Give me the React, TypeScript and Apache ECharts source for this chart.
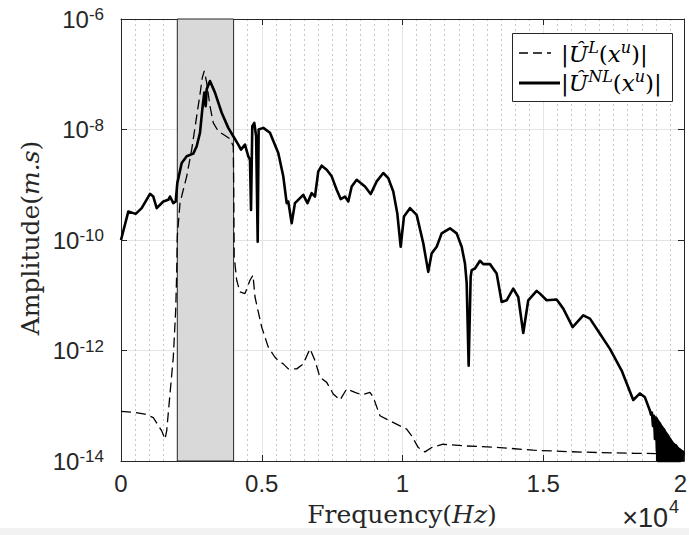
import React, { useEffect, useRef } from 'react';
import * as echarts from 'echarts';

// Tick labels
const xTickLabels = ['0', '0.5', '1', '1.5', '2'];
const yTickExponents = ['-14', '-12', '-10', '-8', '-6'];
const xScaleBase = '×10';
const xScaleNote = '4';

// Shaded excitation band (Hz)
const bandStart = 2000;
const bandEnd = 4000;

// Series names (legend)
const seriesNames = ['U_L', 'U_NL'];

// Linear response |U^L(x^u)|  [frequency Hz, amplitude m.s]
const linearSpectrum: [number, number][] = [
  [0, 7.9e-14], [497, 7.55e-14], [852, 7.06e-14], [1147, 6.12e-14], [1446, 3.51e-14],
  [1563, 2.48e-14], [1623, 3.51e-14], [1740, 1.63e-13], [1858, 7.55e-13], [1943, 5.33e-12],
  [1978, 2.51e-11], [1999, 1.15e-10], [2096, 4.65e-10], [2213, 8.11e-10], [2334, 1.42e-9],
  [2511, 4.33e-9], [2689, 1.75e-8], [2806, 4.33e-8], [2888, 8.71e-8], [2959, 1.15e-7],
  [3044, 7.06e-8], [3161, 2.65e-8], [3278, 1.32e-8], [3456, 9.3e-9], [3694, 7.78e-9],
  [3872, 6.78e-9], [3989, 4.97e-9], [4007, 5.33e-10], [4021, 4.97e-11], [4110, 1.87e-11],
  [4227, 1.15e-11], [4404, 1.07e-11], [4582, 1.87e-11], [4689, 2.31e-11], [4760, 9.3e-12],
  [4998, 2.65e-12], [5232, 1.15e-12], [5470, 7.55e-13], [5587, 6.58e-13], [5765, 5.73e-13],
  [5942, 4.65e-13], [6241, 4.65e-13], [6475, 5.73e-13], [6713, 1.07e-12], [6891, 6.58e-13],
  [7068, 3.27e-13], [7307, 2.65e-13], [7541, 1.63e-13], [7779, 1.27e-13], [8017, 2.01e-13],
  [8312, 1.75e-13], [8550, 1.58e-13], [8844, 1.75e-13], [8962, 1.42e-13], [9200, 6.58e-14],
  [9555, 5.33e-14], [9910, 4.33e-14], [10148, 3.77e-14], [10326, 2.85e-14], [10560, 1.75e-14],
  [10798, 1.46e-14], [11036, 1.75e-14], [11448, 2.01e-14], [12279, 1.87e-14], [13462, 1.75e-14],
  [14645, 1.57e-14], [15831, 1.48e-14], [17014, 1.42e-14], [18197, 1.38e-14], [19146, 1.36e-14],
  [19998, 1.38e-14],
];

// Nonlinear response |U^NL(x^u)|  [frequency Hz, amplitude m.s]
const nonlinearSpectrum: [number, number][] = [
  [0, 1.0e-10], [259, 3.27e-10], [522, 2.97e-10], [735, 3.77e-10], [1030, 6.85e-10],
  [1147, 6.12e-10], [1268, 3.77e-10], [1503, 4.97e-10], [1680, 5.33e-10], [1740, 6.12e-10],
  [1858, 4.65e-10], [1943, 4.97e-10], [2000, 1.07e-9], [2156, 2.48e-9], [2334, 3.27e-9],
  [2568, 3.66e-9], [2689, 4.97e-9], [2806, 8.71e-9], [2888, 2.31e-8], [2959, 4.65e-8],
  [3009, 2.65e-8], [3044, 5.33e-8], [3161, 7.55e-8], [3339, 4.65e-8], [3577, 2.01e-8],
  [3811, 1.07e-8], [3989, 7.55e-9], [4167, 5.33e-9], [4262, 4.33e-9], [4404, 5.33e-9],
  [4522, 3.27e-9], [4582, 2.85e-9], [4618, 3.51e-10], [4664, 1.15e-8], [4735, 1.32e-8],
  [4800, 7.55e-9], [4856, 9.3e-11], [4890, 1.0e-8], [5055, 1.07e-8], [5292, 8.71e-9],
  [5587, 3.77e-9], [5765, 1.42e-9], [5886, 4.65e-10], [5942, 4.97e-10], [6063, 2.01e-10],
  [6180, 4.65e-10], [6475, 6.58e-10], [6624, 4.65e-10], [6774, 7.06e-10], [6891, 6.12e-10],
  [7008, 1.75e-9], [7129, 2.21e-9], [7307, 1.87e-9], [7484, 1.42e-9], [7662, 8.11e-10],
  [7804, 5.5e-10], [7956, 6.12e-10], [8074, 4.97e-10], [8195, 9.3e-10], [8372, 1.23e-9],
  [8667, 9.3e-10], [8869, 6.78e-10], [9083, 1.15e-9], [9317, 1.63e-9], [9494, 1.32e-9],
  [9672, 7.55e-10], [9814, 3.05e-10], [9935, 7.55e-11], [10052, 2.65e-10], [10265, 3.77e-10],
  [10503, 2.85e-10], [10738, 8.71e-11], [10915, 2.65e-11], [11036, 5.73e-11], [11214, 7.55e-11],
  [11391, 1.32e-10], [11686, 1.63e-10], [11924, 1.32e-10], [12102, 7.55e-11], [12219, 3.77e-11],
  [12280, 1.65e-11], [12350, 5.33e-13], [12421, 2.15e-11], [12457, 2.85e-11], [12574, 3.05e-11],
  [12752, 4.21e-11], [12869, 3.66e-11], [13107, 3.66e-11], [13345, 2.48e-11], [13523, 7.55e-12],
  [13700, 8.11e-12], [13934, 1.32e-11], [14112, 9.3e-12], [14290, 2.07e-12], [14467, 8.11e-12],
  [14766, 1.2e-11], [14883, 1.07e-11], [15121, 8.11e-12], [15476, 8.36e-12], [15711, 5.73e-12],
  [16044, 2.65e-12], [16421, 4.33e-12], [16659, 3.77e-12], [17014, 2.01e-12], [17369, 1.07e-12],
  [17785, 4.33e-13], [18197, 1.27e-13], [18435, 1.67e-13], [18612, 1.42e-13], [18790, 8.1e-14],
  [18826, 6.9e-14], [18861, 7.5e-14], [18897, 4.3e-14], [18932, 6.6e-14], [18968, 2.5e-14],
  [19003, 6.1e-14], [19039, 1.5e-14], [19074, 5.3e-14], [19110, 6e-15], [19146, 4.7e-14],
  [19181, 5e-15], [19217, 4.1e-14], [19252, 5e-15], [19288, 3.7e-14], [19323, 5e-15],
  [19359, 3.2e-14], [19394, 5e-15], [19430, 2.85e-14], [19465, 5e-15], [19501, 2.5e-14],
  [19536, 5e-15], [19572, 2.2e-14], [19607, 5e-15], [19643, 2.0e-14], [19678, 5e-15],
  [19714, 1.9e-14], [19749, 5e-15], [19785, 1.7e-14], [19820, 5e-15], [19856, 1.6e-14],
  [19891, 1.09e-14], [19927, 1.5e-14], [19962, 1.3e-14], [19998, 1.45e-14],
];

// Upper envelope of the dense oscillation at the top of the band (filled black in the figure)
const nonlinearEnvelope: [number, number][] = [
  [19003, 6.1e-14], [19074, 5.3e-14], [19146, 4.7e-14], [19217, 4.1e-14], [19288, 3.7e-14],
  [19359, 3.2e-14], [19430, 2.85e-14], [19501, 2.5e-14], [19572, 2.2e-14], [19643, 2.0e-14],
  [19714, 1.9e-14], [19785, 1.7e-14], [19856, 1.6e-14], [19927, 1.5e-14], [19998, 1.45e-14],
];

export default function App() {
  const ref = useRef<HTMLDivElement>(null);

  useEffect(() => {
    if (!ref.current) return;
    const chart = echarts.init(ref.current, null, { renderer: 'svg' });
    const serif = '"DejaVu Serif", serif';
    const sans = '"Liberation Sans", Arial, sans-serif';
    const axisColor = '#262626';
    const gridColor = '#e4e4e4';

    const yFormatter = (v: number) => {
      const e = Math.round(Math.log10(v));
      const idx = Math.round((e + 14) / 2);
      const lab = yTickExponents[idx] ?? String(e);
      return `10{s|${lab}}`;
    };

    const xFormatter = (v: number) => {
      const idx = Math.round(v / 5000);
      const lab = xTickLabels[idx] ?? '';
      return idx === xTickLabels.length - 1 ? `{r|${lab}}` : lab;
    };

    const legendRich = {
      it: { fontFamily: serif, fontSize: 23, fontStyle: 'italic', fill: '#000', lineHeight: 30 },
      sup: { fontFamily: serif, fontSize: 16, fontStyle: 'italic', fill: '#000', lineHeight: 12, verticalAlign: 'top' },
    };

    const option: any = {
      animation: false,
      backgroundColor: '#ffffff',
      grid: {
        left: 121, right: 5, top: 19, bottom: 74,
        containLabel: false, outerBoundsMode: 'none', show: false,
      },
      xAxis: [
        {
          type: 'value', min: 0, max: 20000, interval: 5000, position: 'bottom',
          axisLine: { show: true, onZero: false, lineStyle: { color: axisColor, width: 1 } },
          axisTick: { show: true, inside: true, length: 6, lineStyle: { color: axisColor } },
          axisLabel: {
            show: true, margin: 10, color: axisColor, fontFamily: sans, fontSize: 24,
            showMinLabel: true, showMaxLabel: true, hideOverlap: false,
            formatter: xFormatter,
            rich: { r: { fontFamily: sans, fontSize: 24, color: axisColor, padding: [0, 7, 0, 0] } },
          },
          splitLine: { show: true, lineStyle: { color: gridColor, width: 1 } },
          minorTick: { show: false, splitNumber: 10 },
          minorSplitLine: { show: true, lineStyle: { color: '#c8c8c8', width: 1, type: [2, 3] } },
        },
        {
          type: 'value', min: 0, max: 20000, interval: 5000, position: 'top',
          axisLine: { show: true, onZero: false, lineStyle: { color: axisColor, width: 1 } },
          axisTick: { show: true, inside: true, length: 6, lineStyle: { color: axisColor } },
          axisLabel: { show: false },
          splitLine: { show: false },
        },
      ],
      yAxis: [
        {
          type: 'log', logBase: 10, min: 1e-14, max: 1e-6, interval: 2, splitNumber: 4, position: 'left',
          axisLine: { show: true, onZero: false, lineStyle: { color: axisColor, width: 1 } },
          axisTick: { show: true, inside: true, length: 6, lineStyle: { color: axisColor } },
          axisLabel: {
            show: true, margin: 17, formatter: yFormatter,
            color: axisColor, fontFamily: sans, fontSize: 24, lineHeight: 26,
            rich: {
              s: { fontFamily: sans, fontSize: 17, color: axisColor, lineHeight: 8, verticalAlign: 'top' },
            },
            showMinLabel: true, showMaxLabel: true, hideOverlap: false,
          },
          splitLine: { show: true, lineStyle: { color: gridColor, width: 1 } },
          minorTick: { show: false },
          minorSplitLine: { show: false },
        },
        {
          type: 'log', logBase: 10, min: 1e-14, max: 1e-6, interval: 2, splitNumber: 4, position: 'right',
          axisLine: { show: true, onZero: false, lineStyle: { color: axisColor, width: 1 } },
          axisTick: { show: true, inside: true, length: 6, lineStyle: { color: axisColor } },
          axisLabel: { show: false },
          splitLine: { show: false },
        },
      ],
      series: [
        {
          type: 'line', name: 'band', data: [], z: 1, silent: true,
          markArea: {
            silent: true,
            label: { show: false },
            itemStyle: { color: '#d9d9d9', borderColor: axisColor, borderWidth: 1 },
            data: [[{ xAxis: bandStart }, { xAxis: bandEnd }]],
          },
        },
        {
          type: 'line', name: seriesNames[0], data: linearSpectrum, z: 3,
          showSymbol: false, symbol: 'none', clip: true, silent: true,
          lineStyle: { color: '#000', width: 1.3, type: [10, 5] },
        },
        {
          type: 'line', name: 'envelope', data: nonlinearEnvelope, z: 4,
          showSymbol: false, symbol: 'none', clip: true, silent: true,
          lineStyle: { color: '#000', width: 2.6 },
          areaStyle: { color: '#000', opacity: 1, origin: 'start' },
        },
        {
          type: 'line', name: seriesNames[1], data: nonlinearSpectrum, z: 5,
          showSymbol: false, symbol: 'none', clip: true, silent: true,
          lineStyle: { color: '#000', width: 2.6, join: 'round' },
        },
      ],
      graphic: [
        {
          type: 'rect', z: 0, silent: true,
          shape: { x: 0, y: 528, width: 689, height: 7 },
          style: { fill: '#f2f2f2' },
        },
        {
          type: 'text', z: 10, silent: true, x: 30, y: 238, rotation: Math.PI / 2,
          style: {
            text: 'Amplitude({i|m.s})',
            fontFamily: serif, fontSize: 25, fill: axisColor,
            align: 'center', verticalAlign: 'middle',
            rich: { i: { fontFamily: serif, fontSize: 25, fontStyle: 'italic', fill: axisColor } },
          },
        },
        {
          type: 'text', z: 10, silent: true, x: 402, y: 514,
          style: {
            text: 'Frequency({i|Hz})',
            fontFamily: serif, fontSize: 25, fill: axisColor,
            align: 'center', verticalAlign: 'middle',
            rich: { i: { fontFamily: serif, fontSize: 25, fontStyle: 'italic', fill: axisColor } },
          },
        },
        {
          type: 'text', z: 10, silent: true, x: 668, y: 518,
          style: {
            text: xScaleBase,
            font: `27px ${sans}`, fill: axisColor,
            align: 'right', verticalAlign: 'middle',
          },
        },
        {
          type: 'text', z: 10, silent: true, x: 669, y: 507,
          style: {
            text: xScaleNote,
            font: `18px ${sans}`, fill: axisColor,
            align: 'left', verticalAlign: 'middle',
          },
        },
        {
          type: 'group', z: 20,
          children: [
            {
              type: 'rect', silent: true, z: 20,
              shape: { x: 512.5, y: 33.5, width: 160, height: 68 },
              style: { fill: '#fff', stroke: axisColor, lineWidth: 1 },
            },
            {
              type: 'line', silent: true, z: 21,
              shape: { x1: 519, y1: 53, x2: 551, y2: 53 },
              style: { stroke: '#000', lineWidth: 1.3, lineDash: [9, 5] },
            },
            {
              type: 'line', silent: true, z: 21,
              shape: { x1: 519, y1: 83, x2: 560, y2: 83 },
              style: { stroke: '#000', lineWidth: 3 },
            },
            {
              type: 'text', silent: true, z: 21, x: 561, y: 54,
              style: {
                text: '|{it|Û}{sup|L}({it|x}{sup|u})|',
                fontFamily: serif, fontSize: 23, fill: '#000', lineHeight: 30,
                align: 'left', verticalAlign: 'middle', rich: legendRich,
              },
            },
            {
              type: 'text', silent: true, z: 21, x: 561, y: 83,
              style: {
                text: '|{it|Û}{sup|NL}({it|x}{sup|u})|',
                fontFamily: serif, fontSize: 23, fill: '#000', lineHeight: 30,
                align: 'left', verticalAlign: 'middle', rich: legendRich,
              },
            },
          ],
        },
      ],
    };

    chart.setOption(option);
    return () => chart.dispose();
  }, []);

  return (
    <div
      ref={ref}
      style={{ position: 'absolute', left: 0, top: 0, width: 689, height: 535, background: '#fff' }}
    />
  );
}
